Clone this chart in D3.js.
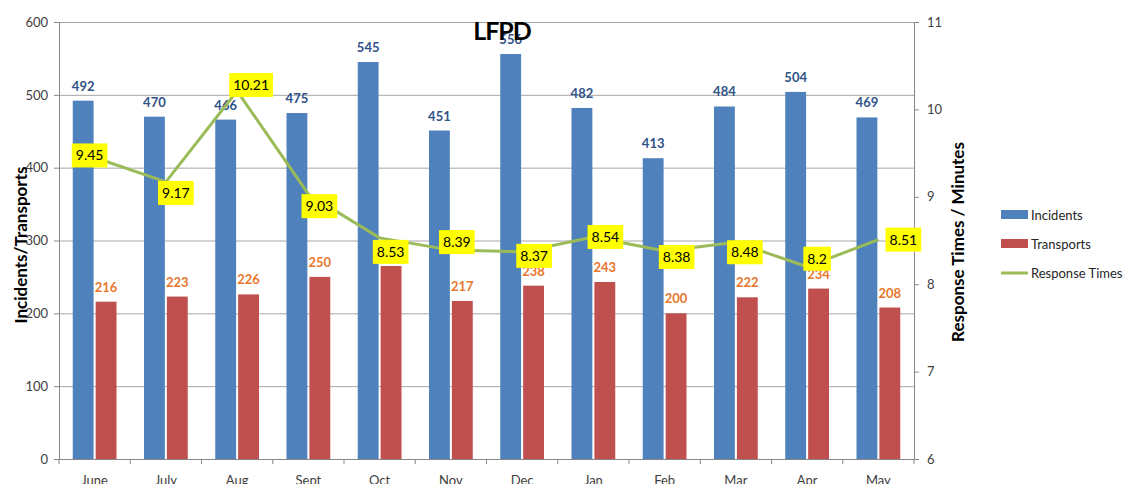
<!DOCTYPE html>
<html>
<head>
<meta charset="utf-8">
<script src="https://cdn.jsdelivr.net/npm/d3@7"></script>
<style>
  body { margin: 0; background: #fff; }
  svg { display: block; font-family: Lato, "Open Sans", sans-serif; }
</style>
</head>
<body>
<svg id="chart" width="1128" height="484"></svg>
<script>
// chart data
var months = ["June", "July", "Aug", "Sept", "Oct", "Nov", "Dec", "Jan", "Feb", "Mar", "Apr", "May"];
var incidents = [492, 470, 466, 475, 545, 451, 556, 482, 413, 484, 504, 469];
var transports = [216, 223, 226, 250, 265, 217, 238, 243, 200, 222, 234, 208];
var responseTimes = [9.45, 9.17, 10.21, 9.03, 8.53, 8.39, 8.37, 8.54, 8.38, 8.48, 8.2, 8.51];
var leftTicks = [0, 100, 200, 300, 400, 500, 600];
var rightTicks = [6, 7, 8, 9, 10, 11];

// label nudges for the yellow boxes (pixels, relative to the point)
var boxNudge = [[-5, -2], [10, 11], [14, -6], [11, 12], [11, 14], [6, -8],
                [12, 4], [12, 0], [12, 6], [9, 10], [10, -8], [25, 0]];

var plotLeft = 59, plotRight = 914, plotTop = 22, plotBottom = 459;
var svg = d3.select("#chart");

var x = d3.scaleBand().domain(months).range([plotLeft, plotRight]).paddingInner(0).paddingOuter(0);
var xSub = d3.scaleBand().domain(["inc", "tr"]).range([0, x.bandwidth()])
    .paddingInner(0.09).paddingOuter(0.6);
var yL = d3.scaleLinear().domain([0, 600]).range([plotBottom, plotTop]);
var yR = d3.scaleLinear().domain([6, 11]).range([plotBottom, plotTop]);

// gridlines
svg.append("g")
    .attr("transform", "translate(" + plotLeft + ",0)")
    .call(d3.axisLeft(yL).tickValues(leftTicks.slice(1)).tickSize(-(plotRight - plotLeft)).tickFormat(""))
    .call(function(g) { g.select(".domain").remove(); })
    .selectAll("line").attr("stroke", "#a6a6a6").attr("stroke-width", 1);

// left axis
var gl = svg.append("g")
    .attr("transform", "translate(" + plotLeft + ",0)")
    .call(d3.axisLeft(yL).tickValues(leftTicks).tickSize(5).tickPadding(6));
gl.select(".domain").attr("stroke", "#868686");
gl.selectAll("line").attr("stroke", "#868686");
gl.selectAll("text").attr("font-size", 13).attr("fill", "#404040").attr("font-family", "Lato, sans-serif");

// right axis
var gr = svg.append("g")
    .attr("transform", "translate(" + plotRight + ",0)")
    .call(d3.axisRight(yR).tickValues(rightTicks).tickFormat(d3.format("d")).tickSize(5).tickPadding(8));
gr.select(".domain").attr("stroke", "#868686");
gr.selectAll("line").attr("stroke", "#868686");
gr.selectAll("text").attr("font-size", 13).attr("fill", "#404040").attr("font-family", "Lato, sans-serif");

// bottom axis with ticks between categories
var gb = svg.append("g")
    .attr("transform", "translate(0," + plotBottom + ")")
    .call(d3.axisBottom(x).tickSize(0).tickPadding(17));
gb.select(".domain").attr("stroke", "#868686");
gb.selectAll("text").attr("font-size", 13).attr("fill", "#404040").attr("font-family", "Lato, sans-serif");
gb.selectAll(".sep")
    .data(months.concat(["end"]))
    .enter().append("line")
    .attr("class", "sep")
    .attr("x1", function(d, i) { return plotLeft + i * x.step(); })
    .attr("x2", function(d, i) { return plotLeft + i * x.step(); })
    .attr("y1", 0).attr("y2", 5)
    .attr("stroke", "#868686");

// bars
svg.append("g").selectAll("rect")
    .data(incidents)
    .enter().append("rect")
    .attr("x", function(d, i) { return x(months[i]) + xSub("inc"); })
    .attr("y", function(d) { return yL(d); })
    .attr("width", xSub.bandwidth())
    .attr("height", function(d) { return plotBottom - yL(d); })
    .attr("fill", "#4f81bd");

svg.append("g").selectAll("rect")
    .data(transports)
    .enter().append("rect")
    .attr("x", function(d, i) { return x(months[i]) + xSub("tr"); })
    .attr("y", function(d) { return yL(d); })
    .attr("width", xSub.bandwidth())
    .attr("height", function(d) { return plotBottom - yL(d); })
    .attr("fill", "#c0504d");

// bar value labels
svg.append("g").selectAll("text")
    .data(incidents)
    .enter().append("text")
    .attr("x", function(d, i) { return x(months[i]) + xSub("inc") + xSub.bandwidth() / 2; })
    .attr("y", function(d) { return yL(d) - 10; })
    .attr("text-anchor", "middle")
    .attr("font-size", 13).attr("font-weight", "bold")
    .attr("fill", "#2f5288")
    .text(function(d) { return d; });

svg.append("g").selectAll("text")
    .data(transports)
    .enter().append("text")
    .attr("x", function(d, i) { return x(months[i]) + xSub("tr") + xSub.bandwidth() / 2; })
    .attr("y", function(d) { return yL(d) - 10; })
    .attr("text-anchor", "middle")
    .attr("font-size", 13).attr("font-weight", "bold")
    .attr("fill", "#e8762d")
    .text(function(d) { return d; });

// response time line
var line = d3.line()
    .x(function(d, i) { return x(months[i]) + x.bandwidth() / 2; })
    .y(function(d) { return yR(d); });

svg.append("path")
    .attr("d", line(responseTimes))
    .attr("fill", "none")
    .attr("stroke", "#9bbb59")
    .attr("stroke-width", 3)
    .attr("stroke-linejoin", "round");

// yellow label boxes
var boxes = svg.append("g").selectAll("g")
    .data(responseTimes)
    .enter().append("g")
    .attr("transform", function(d, i) {
        var cx = x(months[i]) + x.bandwidth() / 2 + boxNudge[i][0];
        var cy = yR(d) + boxNudge[i][1];
        return "translate(" + cx + "," + cy + ")";
    });

boxes.append("text")
    .attr("text-anchor", "middle")
    .attr("dy", "0.35em")
    .attr("font-size", 14)
    .attr("fill", "#000")
    .text(function(d) { return d; })
    .each(function() {
        var bb = this.getBBox();
        d3.select(this.parentNode).insert("rect", "text")
            .attr("x", bb.x - 4).attr("y", -12)
            .attr("width", bb.width + 8).attr("height", 24)
            .attr("fill", "#ffff00");
    });

// title
svg.append("text")
    .attr("x", 502).attr("y", 40)
    .attr("text-anchor", "middle")
    .attr("font-size", 25).attr("font-weight", "bold")
    .attr("letter-spacing", -1)
    .attr("fill", "#000")
    .text("LFPD");

// axis titles
svg.append("text")
    .attr("transform", "translate(27,245) rotate(-90)")
    .attr("text-anchor", "middle")
    .attr("font-size", 17).attr("font-weight", "bold")
    .text("Incidents/Transports");

svg.append("text")
    .attr("transform", "translate(964,242) rotate(-90)")
    .attr("text-anchor", "middle")
    .attr("font-size", 17).attr("font-weight", "bold")
    .text("Response Times / Minutes");

// legend
var legendItems = [
    { name: "Incidents", color: "#4f81bd", type: "rect" },
    { name: "Transports", color: "#c0504d", type: "rect" },
    { name: "Response Times", color: "#9bbb59", type: "line" }
];
var legend = svg.append("g").attr("transform", "translate(1001,215)");
legendItems.forEach(function(item, i) {
    var g = legend.append("g").attr("transform", "translate(0," + (i * 29) + ")");
    if (item.type === "rect") {
        g.append("rect").attr("x", 0).attr("y", -5).attr("width", 27).attr("height", 9).attr("fill", item.color);
    } else {
        g.append("line").attr("x1", 0).attr("x2", 27).attr("y1", 0).attr("y2", 0)
            .attr("stroke", item.color).attr("stroke-width", 3);
    }
    g.append("text").attr("x", 30).attr("dy", "0.35em")
        .attr("font-size", 13).attr("fill", "#262626")
        .text(item.name);
});
</script>
</body>
</html>
